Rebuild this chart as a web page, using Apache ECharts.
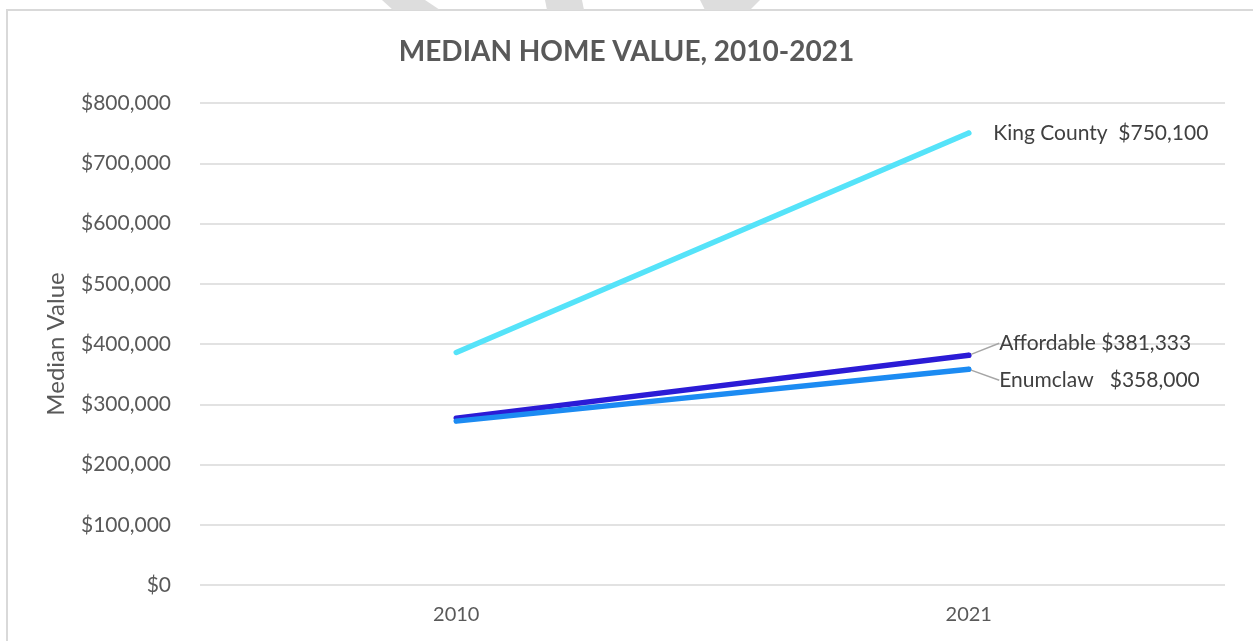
<!DOCTYPE html>
<html>
<head>
<meta charset="utf-8">
<script src="https://cdn.jsdelivr.net/npm/echarts@6/dist/echarts.min.js"></script>
<style>
  html, body { margin: 0; padding: 0; background: #fff; }
  #chart { width: 1253px; height: 641px; }
</style>
</head>
<body>
<div id="chart"></div>
<script>
// data
var years = ['2010', '2021'];
var kingCounty = [386000, 750100];
var affordable = [277000, 381333];
var enumclaw = [272000, 358000];
var seriesNames = ['King County', 'Affordable', 'Enumclaw'];
var endLabels = ['King County  $750,100', 'Affordable $381,333', 'Enumclaw   $358,000'];

var chart = echarts.init(document.getElementById('chart'));

function money(v) {
  return '$' + v.toString().replace(/\B(?=(\d{3})+(?!\d))/g, ',');
}

// only the last point carries a (tiny) symbol and the label
function withEndLabel(values, text, dist) {
  return values.map(function (v, i) {
    if (i < values.length - 1) return { value: v, symbol: 'none' };
    return {
      value: v,
      symbol: 'circle',
      symbolSize: 5,
      label: {
        show: true,
        position: 'right',
        distance: dist,
        formatter: text,
        color: '#404040',
        fontSize: 21,
        fontFamily: 'Lato'
      }
    };
  });
}

function lineSeries(name, values, color, text, dist, layout, showLine) {
  return {
    name: name,
    type: 'line',
    data: withEndLabel(values, text, dist),
    lineStyle: { color: color, width: 5.5, cap: 'round' },
    itemStyle: { color: color },
    labelLayout: layout,
    labelLine: { show: showLine, lineStyle: { color: '#A6A6A6', width: 1.5 } },
    z: 3
  };
}

var option = {
  backgroundColor: '#fff',
  animation: false,
  title: {
    text: 'MEDIAN HOME VALUE, 2010-2021',
    left: 'center',
    top: 33,
    textStyle: { color: '#595959', fontSize: 28, fontWeight: 'bold', fontFamily: 'Lato' }
  },
  grid: { left: 200, right: 28, top: 103, bottom: 56 },
  xAxis: {
    type: 'category',
    data: years,
    boundaryGap: true,
    axisLine: { show: false },
    axisTick: { show: false },
    axisLabel: { color: '#595959', fontSize: 20, fontFamily: 'Lato', margin: 20 }
  },
  yAxis: {
    type: 'value',
    min: 0,
    max: 800000,
    interval: 100000,
    name: 'Median Value',
    nameLocation: 'middle',
    nameGap: 132,
    nameTextStyle: { color: '#595959', fontSize: 24, fontFamily: 'Lato' },
    axisLabel: { color: '#595959', fontSize: 21, fontFamily: 'Lato', margin: 29, formatter: money },
    splitLine: { lineStyle: { color: '#D9D9D9', width: 1.5 } }
  },
  graphic: [
    { type: 'rect', shape: { x: 7, y: 10, width: 1300, height: 700 }, style: { fill: 'none', stroke: '#D9D9D9', lineWidth: 2 }, silent: true },
    { type: 'polygon', shape: { points: [[382, 0], [425, 0], [440, 10], [393, 10]] }, style: { fill: '#DDDDDD' }, silent: true },
    { type: 'polygon', shape: { points: [[545, 0], [582, 0], [584, 10], [547, 10]] }, style: { fill: '#DDDDDD' }, silent: true },
    { type: 'polygon', shape: { points: [[700, 0], [760, 0], [750, 10], [705, 10]] }, style: { fill: '#DDDDDD' }, silent: true }
  ],
  series: [
    lineSeries(seriesNames[0], kingCounty, '#55E3F9', endLabels[0], 22, null, false),
    lineSeries(seriesNames[1], affordable, '#2B1BD6', endLabels[1], 28, { dy: -12 }, true),
    lineSeries(seriesNames[2], enumclaw, '#1C8BF2', endLabels[2], 28, { dy: 11 }, true)
  ]
};

chart.setOption(option);
</script>
</body>
</html>
